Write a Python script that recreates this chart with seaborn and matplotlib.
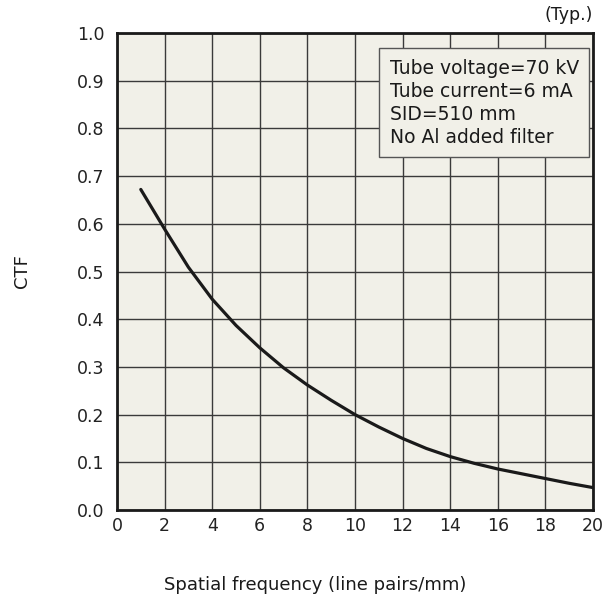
import numpy as np
import pandas as pd
import matplotlib
matplotlib.use('Agg')
import matplotlib.pyplot as plt
import seaborn as sns

# values
freq = [1, 2, 3, 4, 5, 6, 7, 8, 9, 10, 11, 12, 13, 14, 15, 16, 17, 18, 19, 20]
ctf = [0.672, 0.589, 0.509, 0.442, 0.387, 0.340, 0.298, 0.262, 0.230, 0.200,
       0.174, 0.150, 0.129, 0.112, 0.098, 0.086, 0.076, 0.066, 0.056, 0.047]
x_ticks = [0, 2, 4, 6, 8, 10, 12, 14, 16, 18, 20]
y_ticks = [0.0, 0.1, 0.2, 0.3, 0.4, 0.5, 0.6, 0.7, 0.8, 0.9, 1.0]
note_lines = ['Tube voltage=70 kV', 'Tube current=6 mA', 'SID=510 mm', 'No Al added filter']

sns.set_style('white')
plt.rcParams['font.family'] = ['DejaVu Sans']

df = pd.DataFrame({'freq': freq, 'ctf': ctf})

fig = plt.figure(figsize=(6.04, 6.03), dpi=100)
ax = fig.add_axes([0.1937, 0.1542, 0.7881, 0.7911])
ax.set_facecolor('#f1f0e8')

sns.lineplot(data=df, x='freq', y='ctf', ax=ax, color='#1a1a1a', linewidth=2.3)

ax.set_xlim(0, 20)
ax.set_ylim(0, 1)
ax.set_xticks(x_ticks)
ax.set_yticks(y_ticks)
ax.set_yticklabels([f'{v:.1f}' for v in y_ticks])
ax.tick_params(axis='both', length=0, labelsize=12.5, colors='#222222')
ax.tick_params(axis='y', pad=9)
ax.tick_params(axis='x', pad=5)
ax.grid(True, color='#3a3a3a', linewidth=1.0)
ax.set_axisbelow(True)
for s in ax.spines.values():
    s.set_color('#1a1a1a')
    s.set_linewidth(2)
ax.set_xlabel('')
ax.set_ylabel('')

# condition box
ax.text(0.573, 0.946, '\n'.join(note_lines), transform=ax.transAxes,
        ha='left', va='top', multialignment='left', fontsize=13.5, color='#1a1a1a',
        linespacing=1.27,
        bbox=dict(boxstyle='square,pad=0.55', facecolor='#f1f0e8', edgecolor='#555555', linewidth=1))

fig.text(0.981, 0.975, '(Typ.)', ha='right', va='center', fontsize=12.5, color='#1a1a1a')
fig.text(0.037, 0.55, 'CTF', rotation=90, ha='center', va='center', fontsize=13, color='#1a1a1a')
fig.text(0.522, 0.03, 'Spatial frequency (line pairs/mm)', ha='center', va='center',
         fontsize=13, color='#1a1a1a')

fig.savefig('out.png', dpi=100, facecolor='white')
